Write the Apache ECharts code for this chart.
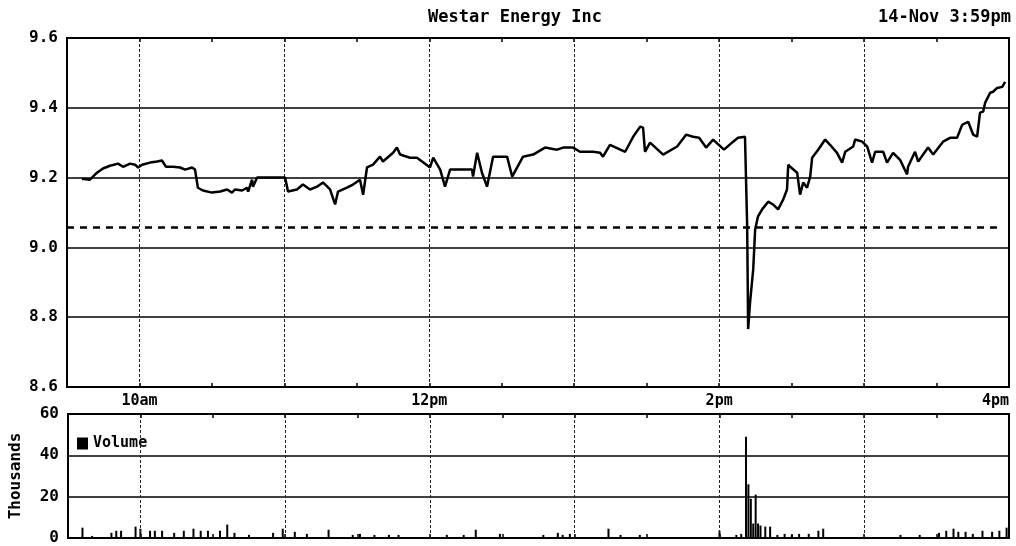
<!DOCTYPE html>
<html>
<head>
<meta charset="utf-8">
<script src="https://cdn.jsdelivr.net/npm/echarts@6/dist/echarts.min.js"></script>
<style>
  html, body { margin: 0; padding: 0; background: #fff; }
  #chart { width: 1016px; height: 546px; }
</style>
</head>
<body>
<div id="chart"></div>
<script>
// times are minutes after midnight (570 = 9:30am, 960 = 4pm)
var priceTimes = [576.2, 579.5, 582.4, 584.9, 587.8, 591.1, 593.2, 596.1, 598.2, 599.4,
    601.1, 604.4, 607.3, 609.3, 611.0, 613.9, 616.8, 618.9, 621.8, 623.0,
    624.2, 626.3, 630.0, 633.4, 636.3, 638.3, 639.6, 642.5, 644.5, 645.0,
    646.6, 647.0, 648.7, 652.8, 660.3, 661.5, 665.2, 667.7, 670.6, 673.5,
    676.0, 678.9, 681.0, 682.2, 685.9, 688.4, 691.3, 692.6, 694.2, 696.7,
    699.6, 700.8, 705.0, 706.6, 707.9, 712.0, 714.9, 717.0, 720.3, 721.6,
    724.5, 726.5, 728.6, 737.7, 738.1, 739.8, 741.8, 743.9, 746.4, 752.2,
    754.3, 758.8, 763.0, 767.9, 772.9, 775.4, 779.5, 782.4, 787.8, 790.7,
    791.9, 794.8, 801.1, 804.4, 807.3, 808.5, 809.3, 811.4, 816.8, 822.6,
    826.3, 829.2, 831.7, 834.6, 837.5, 842.0, 845.8, 847.8, 850.7, 851.6,
    852.0, 852.8, 854.1, 854.9, 856.1, 857.8, 860.3, 862.3, 864.4, 866.5,
    868.1, 868.6, 869.4, 872.3, 873.5, 874.8, 876.4, 877.7, 878.5, 881.0,
    883.9, 885.9, 888.8, 890.9, 892.2, 895.5, 896.3, 899.2, 901.3, 903.3,
    904.6, 907.9, 909.5, 912.0, 914.9, 917.8, 918.2, 921.1, 922.4, 926.5,
    928.6, 932.7, 935.6, 938.5, 940.6, 943.1, 945.2, 946.8, 948.0, 949.3,
    950.1, 952.2, 953.4, 955.1, 957.2, 958.4];
var priceValues = [9.197, 9.194, 9.214, 9.226, 9.234, 9.240, 9.231, 9.240, 9.237, 9.229,
    9.237, 9.243, 9.246, 9.249, 9.231, 9.231, 9.229, 9.223, 9.229, 9.223,
    9.171, 9.163, 9.157, 9.160, 9.166, 9.157, 9.166, 9.163, 9.171, 9.160,
    9.194, 9.174, 9.200, 9.200, 9.200, 9.160, 9.166, 9.180, 9.166, 9.174,
    9.186, 9.166, 9.123, 9.160, 9.171, 9.180, 9.194, 9.151, 9.229, 9.237,
    9.260, 9.246, 9.271, 9.286, 9.266, 9.257, 9.257, 9.246, 9.229, 9.257,
    9.223, 9.174, 9.223, 9.223, 9.203, 9.271, 9.214, 9.174, 9.260, 9.260,
    9.203, 9.260, 9.266, 9.286, 9.280, 9.286, 9.286, 9.274, 9.274, 9.271,
    9.260, 9.294, 9.274, 9.317, 9.346, 9.343, 9.274, 9.300, 9.266, 9.289,
    9.323, 9.317, 9.314, 9.286, 9.309, 9.280, 9.303, 9.314, 9.317, 9.060,
    8.766, 8.843, 8.937, 9.051, 9.089, 9.109, 9.131, 9.123, 9.109, 9.137,
    9.166, 9.237, 9.231, 9.214, 9.151, 9.186, 9.171, 9.203, 9.257, 9.280,
    9.309, 9.294, 9.271, 9.243, 9.274, 9.289, 9.309, 9.303, 9.289, 9.243,
    9.274, 9.274, 9.243, 9.271, 9.251, 9.209, 9.231, 9.274, 9.246, 9.286,
    9.266, 9.303, 9.314, 9.314, 9.351, 9.360, 9.323, 9.317, 9.386, 9.389,
    9.414, 9.443, 9.446, 9.457, 9.460, 9.474];

var volumeTimes = [576, 580, 588, 590, 592, 598, 600, 604, 606, 609,
    614, 618, 622, 625, 628, 633, 636, 639, 645, 655,
    659, 664, 669, 678, 688, 691, 697, 703, 707, 727,
    734, 739, 749, 767, 773, 775, 778, 794, 799, 807,
    840, 847, 849, 851, 852, 853, 854, 855, 856, 857,
    859, 861, 864, 867, 870, 873, 877, 881, 883, 915,
    923, 931, 934, 937, 939, 942, 945, 949, 953, 956, 959];
var volumeValues = [5, 1, 2.5, 3.5, 3.5, 5.5, 4.5, 3.5, 3.5, 3.5,
    2.5, 3.5, 4.5, 3.5, 3.5, 3.5, 6.5, 2.5, 1.5, 2.5,
    4.5, 3, 2, 4, 1.5, 2, 1.5, 1.5, 1.5, 1.5,
    1.5, 4, 2, 1.5, 2.5, 1.5, 2, 4.5, 1.5, 1.5,
    3.5, 1.5, 2, 49, 26, 19, 7, 21, 7, 6,
    5.5, 5.5, 1.5, 2, 1.5, 2, 2, 3.5, 4.5, 1.5,
    1.5, 2.5, 3.5, 4.5, 3, 3, 2, 3.5, 3, 3.5, 5];

var hourLines = [600, 660, 720, 780, 840, 900];
var timeLabelAt = [600, 720, 840, 960];
var timeLabels = ['10am', '12pm', '2pm', '4pm'];
var prevClose = 9.058;

var font = 'DejaVu Sans Mono';

function zip(a, b) {
    return a.map(function (v, i) { return [v, b[i]]; });
}

function timeLabel(v) {
    var i = timeLabelAt.indexOf(Math.round(v));
    return i < 0 ? '' : timeLabels[i];
}

var hourMarks = hourLines.map(function (t) { return { xAxis: t }; });

var myChart = echarts.init(document.getElementById('chart'));

var baseX = {
    type: 'value', min: 570, max: 960, interval: 30,
    axisLine: { show: false },
    axisTick: { inside: true, length: 4, lineStyle: { color: '#000', width: 1.5 } },
    axisLabel: { show: false },
    splitLine: { show: false }
};

myChart.setOption({
    animation: false,
    backgroundColor: '#fff',
    title: [
        { text: 'Westar Energy Inc', left: 510, top: 4, textAlign: 'center',
          textStyle: { fontFamily: font, fontSize: 17, fontWeight: 'bold', color: '#000' } },
        { text: '14-Nov 3:59pm', right: 0, top: 4,
          textStyle: { fontFamily: font, fontSize: 17, fontWeight: 'bold', color: '#000' } }
    ],
    legend: {
        data: ['Volume'], left: 72, top: 431, icon: 'rect',
        itemWidth: 11, itemHeight: 12, itemGap: 4,
        textStyle: { fontFamily: font, fontSize: 15, fontWeight: 'bold', color: '#000' }
    },
    grid: [
        { left: 67, top: 38, width: 942, height: 349, show: true, borderColor: '#000', borderWidth: 2 },
        { left: 67, top: 414, width: 942, height: 130, show: true, borderColor: '#000', borderWidth: 2 }
    ],
    xAxis: [
        Object.assign({}, baseX, {
            gridIndex: 0, position: 'bottom',
            axisLabel: {
                show: true, formatter: timeLabel, margin: 7, alignMaxLabel: 'right',
                fontFamily: font, fontSize: 15, fontWeight: 'bold', color: '#000'
            }
        }),
        Object.assign({}, baseX, { gridIndex: 0, position: 'top' }),
        Object.assign({}, baseX, { gridIndex: 1, position: 'bottom' }),
        Object.assign({}, baseX, { gridIndex: 1, position: 'top' })
    ],
    yAxis: [
        {
            type: 'value', gridIndex: 0, min: 8.6, max: 9.6, interval: 0.2,
            axisLine: { show: false }, axisTick: { show: false },
            axisLabel: {
                formatter: function (v) { return v.toFixed(1); }, margin: 9,
                fontFamily: font, fontSize: 16, fontWeight: 'bold', color: '#000'
            },
            splitLine: { lineStyle: { color: '#000', width: 1.5 } }
        },
        {
            type: 'value', gridIndex: 1, min: 0, max: 60, interval: 20,
            name: 'Thousands', nameLocation: 'middle', nameGap: 44, nameRotate: 90,
            nameTextStyle: { fontFamily: font, fontSize: 16, fontWeight: 'bold', color: '#000' },
            axisLine: { show: false }, axisTick: { show: false },
            axisLabel: { margin: 9, fontFamily: font, fontSize: 16, fontWeight: 'bold', color: '#000' },
            splitLine: { lineStyle: { color: '#000', width: 1.5 } }
        }
    ],
    series: [
        {
            name: 'Price', type: 'line', xAxisIndex: 0, yAxisIndex: 0,
            data: zip(priceTimes, priceValues),
            showSymbol: false, symbol: 'none',
            lineStyle: { color: '#000', width: 2.5 },
            z: 5,
            markLine: {
                silent: true, symbol: ['none', 'none'], label: { show: false },
                lineStyle: { color: '#222', width: 1, type: [3, 2] },
                data: hourMarks.concat([[
                    { coord: [570, prevClose], lineStyle: { color: '#000', width: 2.5, type: [7, 6] } },
                    { coord: [955, prevClose] }
                ]])
            }
        },
        {
            name: 'Volume', type: 'bar', xAxisIndex: 2, yAxisIndex: 1,
            data: zip(volumeTimes, volumeValues),
            barWidth: 2,
            itemStyle: { color: '#000' },
            markLine: {
                silent: true, symbol: ['none', 'none'], label: { show: false },
                lineStyle: { color: '#222', width: 1, type: [3, 2] },
                data: hourMarks
            }
        }
    ]
});
</script>
</body>
</html>
